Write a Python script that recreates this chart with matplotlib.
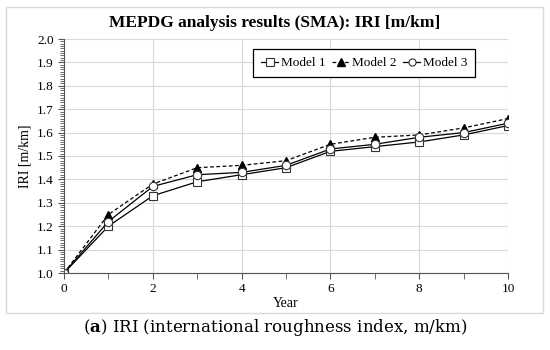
import matplotlib.pyplot as plt
from matplotlib.patches import Rectangle
from matplotlib.ticker import MultipleLocator

years = [0, 1, 2, 3, 4, 5, 6, 7, 8, 9, 10]
model1 = [1.00, 1.20, 1.33, 1.39, 1.42, 1.45, 1.52, 1.54, 1.56, 1.59, 1.63]
model2 = [1.00, 1.25, 1.38, 1.45, 1.46, 1.48, 1.55, 1.58, 1.59, 1.62, 1.66]
model3 = [1.00, 1.22, 1.37, 1.42, 1.43, 1.46, 1.53, 1.55, 1.58, 1.60, 1.64]

plt.rcParams['font.family'] = ['Liberation Serif', 'DejaVu Serif']
plt.rcParams['mathtext.fontset'] = 'dejavuserif'

fig = plt.figure(figsize=(5.5, 3.5), dpi=100)
# outer frame of the chart
fig.patches.append(Rectangle((6/550, 1-313/350), 537/550, 306/350, transform=fig.transFigure,
                             fill=False, edgecolor='#d9d9d9', linewidth=1))

ax = fig.add_axes([64/550, 1-273/350, 444/550, 234/350])
ax.plot(years, model1, color='black', lw=0.9, marker='s', ms=6, mfc='white', mec='#333333', mew=0.8, label='Model 1')
ax.plot(years, model2, color='black', lw=0.9, ls='--', dashes=(3, 2), marker='^', ms=6, mfc='black', mec='black', label='Model 2')
ax.plot(years, model3, color='black', lw=0.9, marker='o', ms=6, mfc='white', mec='#333333', mew=0.8, label='Model 3')

ax.set_xlim(0, 10)
ax.set_ylim(1.0, 2.0)
ax.xaxis.set_major_locator(MultipleLocator(2))
ax.xaxis.set_minor_locator(MultipleLocator(1))
ax.yaxis.set_major_locator(MultipleLocator(0.1))
ax.yaxis.set_minor_locator(MultipleLocator(0.01))
ax.yaxis.set_major_formatter(plt.FormatStrFormatter('%.1f'))
ax.tick_params(axis='both', which='both', direction='out', color='#555555', labelsize=9.5)
ax.tick_params(axis='x', which='both', length=4)
ax.tick_params(axis='y', which='major', length=4)
ax.tick_params(axis='y', which='minor', length=3, width=0.6)
ax.grid(True, which='major', color='#d9d9d9', lw=0.8)
ax.set_axisbelow(True)
for s in ['top', 'right']:
    ax.spines[s].set_visible(False)
for s in ['left', 'bottom']:
    ax.spines[s].set_color('#555555')

ax.set_xlabel('Year', fontsize=10, labelpad=1)
ax.set_ylabel('IRI [m/km]', fontsize=10, labelpad=4)
fig.text(0.5, 1-23/350, 'MEPDG analysis results (SMA): IRI [m/km]', ha='center', va='center',
         fontsize=12.5, fontweight='bold')

leg = ax.legend(loc='upper right', bbox_to_anchor=(0.926, 0.957), borderaxespad=0, ncol=3, fontsize=9.5,
                handlelength=1.3, handletextpad=0.2, columnspacing=0.5, borderpad=0.6,
                fancybox=False, framealpha=1, edgecolor='black', markerscale=0.85)
leg.get_frame().set_linewidth(0.9)

fig.text(0.5, 1-327/350, r'($\mathbf{a}$) IRI (international roughness index, m/km)', ha='center', va='center',
         fontsize=12, family='DejaVu Serif')

fig.savefig('out.png', dpi=100)
